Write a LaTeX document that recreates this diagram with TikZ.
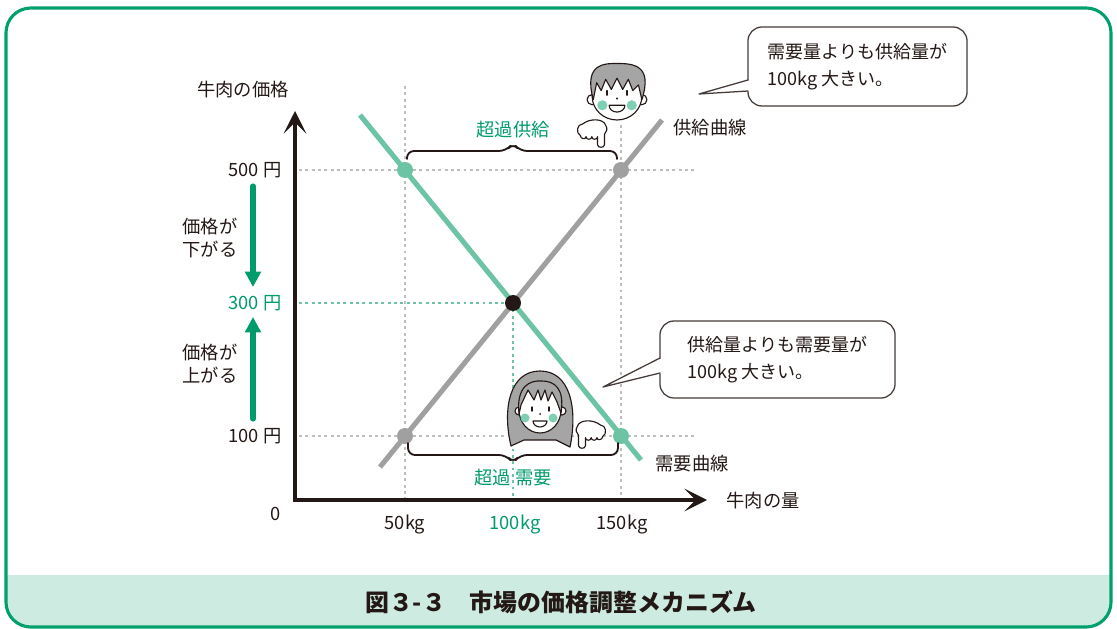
\documentclass[tikz,border=0pt]{standalone}
\usepackage{fontspec}
\setmainfont{Noto Sans CJK JP}
\usetikzlibrary{arrows.meta}
\definecolor{frgreen}{RGB}{0,160,110}
\definecolor{txtgreen}{RGB}{0,155,107}
\definecolor{dmgreen}{RGB}{108,196,164}
\definecolor{spgray}{RGB}{160,160,160}
\definecolor{inkblack}{RGB}{35,24,21}
\definecolor{bandgreen}{RGB}{205,235,225}
\definecolor{hairgray}{RGB}{165,165,165}
\definecolor{cheek}{RGB}{126,207,179}
\definecolor{dotgray}{RGB}{190,190,190}

\tikzset{
  lbl/.style={font=\fontsize{13}{16.5}\selectfont,text=inkblack,inner sep=1pt},
  glbl/.style={lbl,text=txtgreen},
  grid/.style={dotgray,line width=2.1pt,line cap=butt,dash pattern=on 2.1pt off 2.4pt},
  ggrid/.style={grid,dmgreen},
  curve/.style={line width=3.6pt,line cap=butt},
  dot/.style={circle,inner sep=0pt,minimum size=0.4cm},
  brc/.style={inkblack,line width=1.3pt,rounded corners=5},
  axis/.style={inkblack,line width=2.5pt,line join=miter,line cap=butt},
  move/.style={txtgreen,line width=3.6pt,-{Triangle[length=11pt,width=11pt]}},
  callout/.style={draw=inkblack!85,fill=white,line width=0.9pt,rounded corners=0.35cm,
    align=left,font=\fontsize{12.8}{19.2}\selectfont,text=inkblack},
  skin/.style={fill=white,draw=inkblack,line width=0.8pt},
  hair/.style={fill=hairgray,draw=inkblack,line width=0.8pt},
  pics/hand/.style={code={
    \filldraw[skin] (3,-11) -- (3,-2) .. controls (3,1) and (-3,1) .. (-3,-2) -- (-3,-9)
      .. controls (-3,-6) and (-8,-6) .. (-8,-9)
      .. controls (-8,-6) and (-13,-6) .. (-13,-9)
      .. controls (-13,-6) and (-18,-7) .. (-18,-10)
      .. controls (-22,-12) and (-21,-20) .. (-16,-20)
      .. controls (-10,-25) and (2,-25) .. (4,-19)
      .. controls (6,-16) and (5,-13) .. (3,-11) -- cycle;
  }}
}

\begin{document}
\begin{tikzpicture}[x=0.025cm,y=-0.025cm,line cap=round,line join=round]
\useasboundingbox (0,0) rectangle (1117,629);

% frame and caption band
\begin{scope}
  \clip[rounded corners=0.62cm] (6,8) rectangle (1111,627);
  \fill[bandgreen] (0,575) rectangle (1117,629);
\end{scope}
\draw[frgreen,line width=2.2pt,rounded corners=0.62cm] (6,8) rectangle (1111,627);
\node[font=\fontsize{17}{20}\selectfont\bfseries,text=inkblack] (title) at (561,602)
  {図３-３　市場の価格調整メカニズム};

% dotted guides
\draw[grid] (405,86) -- (405,500);
\draw[grid] (621,125) -- (621,500);
\draw[grid] (299,170) -- (696,170);
\draw[grid] (299,436) -- (696,436);
\draw[ggrid] (299,303) -- (513,303);
\draw[ggrid] (513,303) -- (513,500);

% supply and demand
\draw[curve,spgray] (380,467) -- (662,120);
\draw[curve,dmgreen] (360,115) -- (641,460);
\node[dot,fill=dmgreen] (d500) at (405,170) {};
\node[dot,fill=spgray] (s500) at (621,170) {};
\node[dot,fill=spgray] (s100) at (405,436) {};
\node[dot,fill=dmgreen] (d100) at (621,436) {};
\node[dot,fill=inkblack] (eq) at (513,303) {};
\node[lbl,anchor=west] (scurve) at (672,128) {供給曲線};
\node[lbl,anchor=west] (dcurve) at (654,464) {需要曲線};

% braces for the gaps
\draw[brc] (407,159) -- (407,151) -- (506,151) -- (513,143) -- (520,151) -- (617,151) -- (617,159);
\draw[brc] (408,443) -- (408,455) -- (506,455) -- (513,463) -- (520,455) -- (618,455) -- (618,443);
\node[glbl] (oversup) at (513,130) {超過供給};
\node[glbl] (overdem) at (513,478) {超過 需要};

% axes
\coordinate (O) at (295,500);
\coordinate (ytop) at (295,111);
\coordinate (xend) at (707,500);
\draw[axis,{Stealth[length=16pt,width=16pt,inset=8pt]}-{Stealth[length=16pt,width=16pt,inset=8pt]}]
  (ytop) -- (O) -- (xend);
\node[lbl] (ylab) at (243,90) {牛肉の価格};
\node[lbl,anchor=west] (xlab) at (725,501) {牛肉の量};
\node[lbl] (zero) at (276,514) {0};
\node[lbl] (p500) at (255,170) {500 円};
\node[glbl] (p300) at (255,303) {300 円};
\node[lbl] (p100) at (255,436) {100 円};
\node[lbl] (q50) at (405,525) {50kg};
\node[glbl] (q100) at (515,525) {100kg};
\node[lbl] (q150) at (622,525) {150kg};

% price moves
\coordinate (dn0) at (253,186);
\coordinate (dn1) at (253,287);
\coordinate (up0) at (253,419);
\coordinate (up1) at (253,317);
\draw[move] (dn0) -- (dn1);
\draw[move] (up0) -- (up1);
\node[lbl,align=left] (fall) at (210,238) {価格が\\下がる};
\node[lbl,align=left] (rise) at (210,364) {価格が\\上がる};

% boy
\begin{scope}[shift={(617,94)},scale=1.13]
  \filldraw[skin] (-22,5) circle (4.5);
  \filldraw[skin] (22,5) circle (4.5);
  \filldraw[skin] (0,2) ellipse (22 and 21);
  \filldraw[hair] (-21,5) .. controls (-30,-28) and (-10,-27) .. (0,-27)
    .. controls (14,-27) and (32,-26) .. (22,5) -- (19,-8) -- (14,-3) -- (10,-13)
    -- (5,-4) -- (0,-14) -- (-5,-4) -- (-10,-13) -- (-14,-3) -- (-18,-10) -- cycle;
  \draw[inkblack,line width=1pt] (-9,-3) -- (-9,1) (9,-3) -- (9,1);
  \fill[inkblack] (0,4) circle (1);
  \fill[cheek] (-13,10) circle (4.5);
  \fill[cheek] (13,10) circle (4.5);
  \filldraw[skin] (-7,10) -- (7,10) arc (0:180:7 and 6) -- cycle;
\end{scope}
\pic[scale=1.15] at (601,147) {hand};

% girl
\begin{scope}[shift={(540,408)}]
  \filldraw[hair] (-29,38) .. controls (-38,0) and (-30,-37) .. (0,-37)
    .. controls (30,-37) and (38,0) .. (30,39) -- (16,32) -- (-16,32) -- cycle;
  \filldraw[skin] (-21,3) circle (4);
  \filldraw[skin] (22,3) circle (4);
  \filldraw[skin] (0,2) ellipse (21 and 23);
  \filldraw[hair] (-21,6) .. controls (-24,-22) and (-10,-28) .. (2,-27)
    .. controls (14,-27) and (25,-20) .. (21,5) -- (17,-6) -- (12,-16) -- (8,-7)
    -- (5,-18) -- (1,-8) -- (-2,-18) -- (-6,-8) -- (-12,-18) -- (-19,-3) -- cycle;
  \draw[inkblack,line width=1pt] (-8,-1) -- (-8,3) (9,-1) -- (9,3);
  \fill[inkblack] (0,6) circle (1);
  \fill[cheek] (-15,10) circle (4.5);
  \fill[cheek] (13,10) circle (4.5);
  \filldraw[skin] (-7,13) -- (7,13) arc (0:180:7 and 6) -- cycle;
\end{scope}
\pic[xscale=-1.15,yscale=1.15] at (582,448) {hand};

% speech bubbles
\node[callout,minimum width=5.475cm,minimum height=1.975cm] (c1) at (857.5,66.5)
  {需要量よりも供給量が\\100kg 大きい。};
\coordinate (c1a) at (748,80);
\coordinate (c1b) at (748,91);
\coordinate (tip1) at (699,94);
\fill[white] ([xshift=1.5]c1a) -- (tip1) -- ([xshift=1.5]c1b) -- cycle;
\draw[inkblack!85,line width=0.9pt] (c1a) -- (tip1) -- (c1b);

\node[callout,minimum width=5.875cm,minimum height=1.925cm] (c2) at (777.5,359.5)
  {供給量よりも需要量が\\100kg 大きい。};
\coordinate (c2a) at (660,358);
\coordinate (c2b) at (660,373);
\coordinate (tip2) at (603,387);
\fill[white] ([xshift=1.5]c2a) -- (tip2) -- ([xshift=1.5]c2b) -- cycle;
\draw[inkblack!85,line width=0.9pt] (c2a) -- (tip2) -- (c2b);
\end{tikzpicture}
\end{document}
